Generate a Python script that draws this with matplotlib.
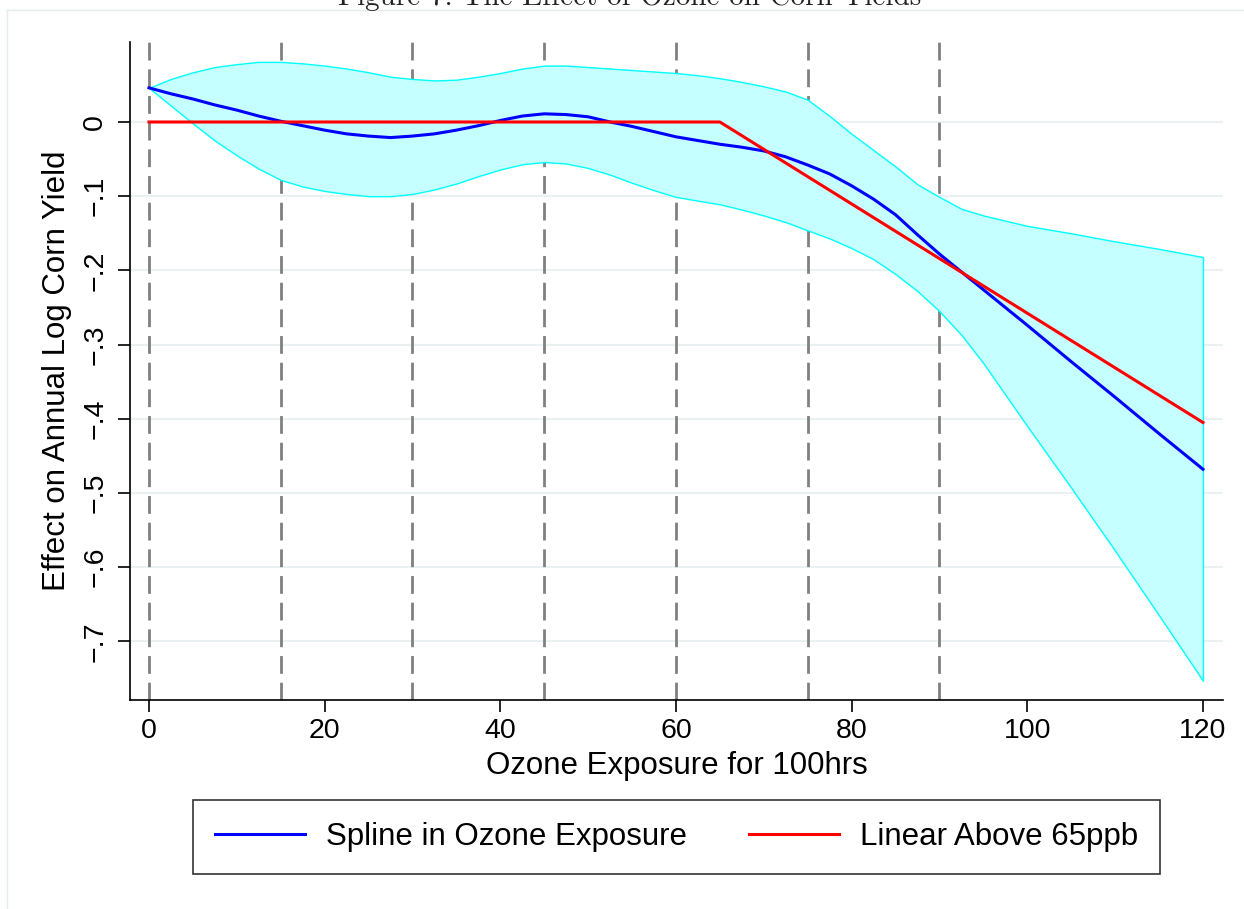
import matplotlib
matplotlib.use('Agg')
import matplotlib.pyplot as plt
from matplotlib.lines import Line2D

plt.rcParams['font.family'] = ['Liberation Sans', 'DejaVu Sans']

# ozone exposure grid (100 hrs)
ozone = [0, 2.5, 5, 7.5, 10, 12.5, 15, 17.5, 20, 22.5, 25, 27.5, 30, 32.5, 35, 37.5, 40, 42.5,
         45, 47.5, 50, 52.5, 55, 57.5, 60, 62.5, 65, 67.5, 70, 72.5, 75, 77.5, 80, 82.5, 85,
         87.5, 90, 92.5, 95, 100, 105, 110, 115, 120]
spline = [0.046, 0.038, 0.031, 0.023, 0.016, 0.008, 0.001, -0.005, -0.011, -0.016, -0.019,
          -0.021, -0.019, -0.016, -0.011, -0.005, 0.002, 0.008, 0.011, 0.010, 0.007, 0.000,
          -0.006, -0.013, -0.020, -0.025, -0.030, -0.034, -0.039, -0.047, -0.058, -0.070,
          -0.086, -0.104, -0.125, -0.152, -0.178, -0.202, -0.226, -0.274, -0.323, -0.371,
          -0.420, -0.468]
ci_hi = [0.046, 0.058, 0.067, 0.074, 0.078, 0.081, 0.081, 0.079, 0.076, 0.072, 0.067, 0.061,
         0.058, 0.056, 0.057, 0.061, 0.066, 0.072, 0.076, 0.076, 0.074, 0.072, 0.070, 0.068,
         0.066, 0.063, 0.059, 0.054, 0.048, 0.041, 0.030, 0.008, -0.016, -0.038, -0.060,
         -0.084, -0.101, -0.117, -0.126, -0.140, -0.150, -0.161, -0.171, -0.182]
ci_lo = [0.046, 0.022, -0.002, -0.025, -0.045, -0.063, -0.078, -0.087, -0.093, -0.097, -0.100,
         -0.100, -0.097, -0.091, -0.083, -0.073, -0.064, -0.057, -0.054, -0.056, -0.062,
         -0.071, -0.082, -0.092, -0.101, -0.106, -0.111, -0.118, -0.126, -0.135, -0.146,
         -0.157, -0.170, -0.185, -0.205, -0.228, -0.255, -0.287, -0.325, -0.410, -0.493,
         -0.578, -0.665, -0.753]

# piecewise linear model: flat until 65, then linear
lin_x = [0, 65, 120]
lin_y = [0, 0, -0.405]

knots = [0, 15, 30, 45, 60, 75, 90]
yticks = [0, -0.1, -0.2, -0.3, -0.4, -0.5, -0.6, -0.7]
ylabels = ['0', '\u2212.1', '\u2212.2', '\u2212.3', '\u2212.4', '\u2212.5', '\u2212.6', '\u2212.7']
xticks = [0, 20, 40, 60, 80, 100, 120]

W, H = 1244, 909
fig = plt.figure(figsize=(W / 100, H / 100), dpi=100)
ax = fig.add_axes([130 / W, 1 - 700 / H, (1223 - 130) / W, (700 - 42) / H])

# light page frame, top and left only
fig.add_artist(Line2D([7 / W, 1], [1 - 10 / H, 1 - 10 / H], color='#e4ecec', lw=1))
fig.add_artist(Line2D([7 / W, 7 / W], [0, 1 - 10 / H], color='#e4ecec', lw=1))

# title cut off by the top edge, as in the source
fig.text(630 / W, 1 - 5 / H, 'Figure 7: The Effect of Ozone on Corn Yields',
         family='cmr10', fontsize=21, ha='center', va='baseline', color='#222222')

for yt in yticks:
    ax.axhline(yt, color='#eaf1f2', lw=1.5, zorder=0)
for k in knots:
    ax.axvline(k, color='#808080', lw=2, dashes=(6.4, 3.2), zorder=1)

ax.fill_between(ozone, ci_lo, ci_hi, facecolor='#c6ffff', edgecolor='#00ffff', lw=1, zorder=2)
l1, = ax.plot(ozone, spline, color='#0000ff', lw=2.2, zorder=3, solid_joinstyle='round')
l2, = ax.plot(lin_x, lin_y, color='#ff0000', lw=2.2, zorder=4)

ax.set_xlim(-2.16, 122.28)
ax.set_ylim(-0.779, 0.1078)
ax.spines['top'].set_visible(False)
ax.spines['right'].set_visible(False)
ax.spines['left'].set_linewidth(1.2)
ax.spines['bottom'].set_linewidth(1.2)

ax.set_xticks(xticks)
ax.set_xticklabels([str(t) for t in xticks])
ax.set_yticks(yticks)
ax.set_yticklabels(ylabels)
ax.tick_params(axis='both', length=8.6, width=1.2, labelsize=20.5, direction='out')
ax.tick_params(axis='x', pad=4.5)
ax.tick_params(axis='y', pad=7, labelrotation=90)
for lab in ax.get_yticklabels():
    lab.set_va('center')

ax.set_xlabel('Ozone Exposure for 100hrs', fontsize=22.5)
ax.set_ylabel('Effect on Annual Log Corn Yield', fontsize=22.5)
ax.xaxis.set_label_coords(0.5, -0.0775)
ax.yaxis.set_label_coords(-0.053, 0.5)

leg = fig.legend([l1, l2], ['Spline in Ozone Exposure', 'Linear Above 65ppb'],
                 loc='center', bbox_to_anchor=(676.5 / W, 1 - 837 / H), ncol=2,
                 fontsize=22.5, frameon=True, fancybox=False, edgecolor='black',
                 handlelength=2.88, handletextpad=0.67, columnspacing=2.0, borderpad=0.7)
leg.get_frame().set_linewidth(1.2)

fig.savefig('out.png', dpi=100)
